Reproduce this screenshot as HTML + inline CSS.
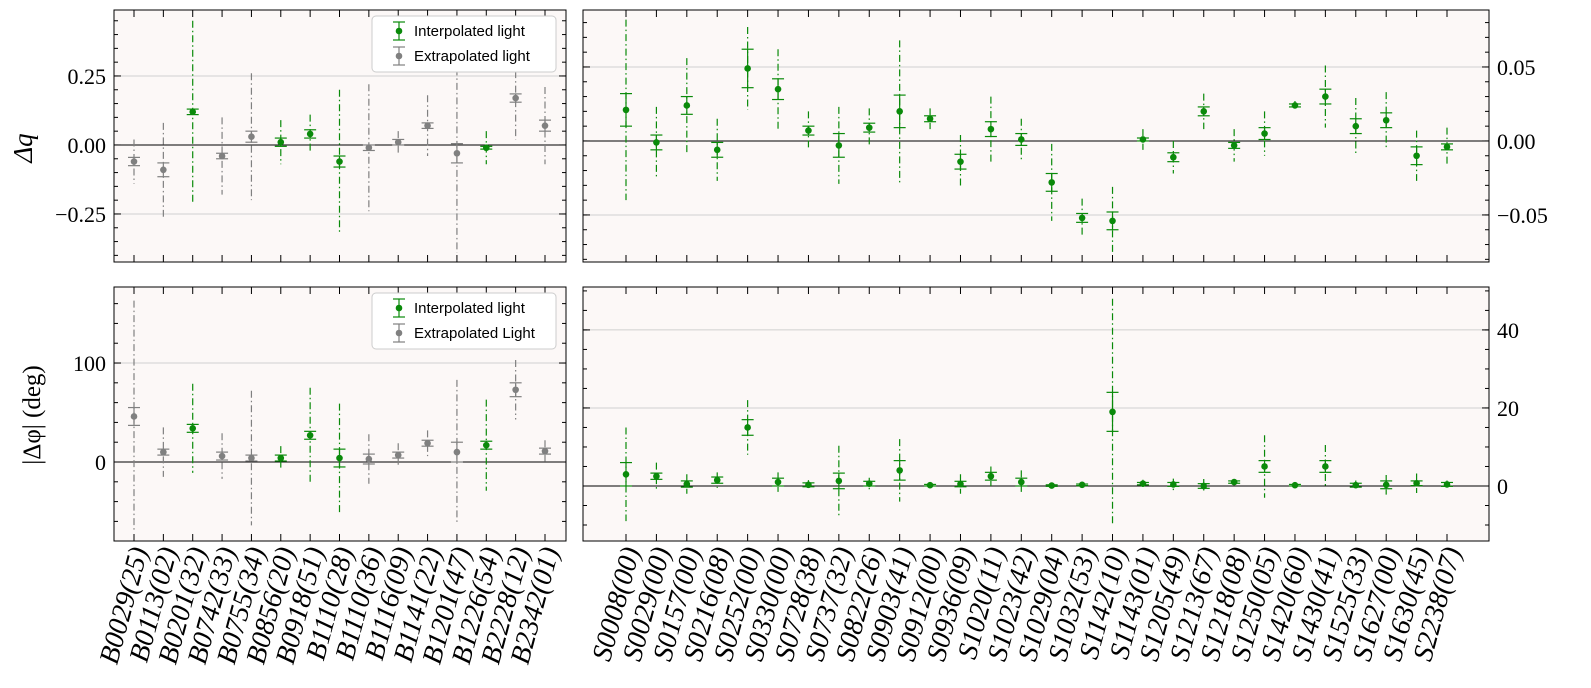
<!DOCTYPE html>
<html><head><meta charset="utf-8"><style>
body{margin:0;background:#fff;}
svg{display:block;font-family:"Liberation Serif","DejaVu Serif",serif;}
</style></head><body>
<svg id="c" width="1591" height="688" xmlns="http://www.w3.org/2000/svg"></svg>
<script>
const catsB=["B0029(25)","B0113(02)","B0201(32)","B0742(33)","B0755(34)","B0856(20)","B0918(51)","B1110(28)","B1110(36)","B1116(09)","B1141(22)","B1201(47)","B1226(54)","B2228(12)","B2342(01)"];
const interpB=[0,0,1,0,0,1,1,1,0,0,0,0,1,0,0];
const dqB=[-0.06,-0.09,0.12,-0.04,0.03,0.01,0.04,-0.06,-0.01,0.01,0.07,-0.03,-0.01,0.17,0.07];
const dqB_e1=[0.015,0.025,0.01,0.01,0.02,0.015,0.015,0.02,0.01,0.01,0.01,0.035,0.005,0.015,0.02];
const dqB_e2=[0.08,0.17,0.33,0.14,0.23,0.08,0.07,0.26,0.23,0.04,0.11,0.36,0.06,0.15,0.14];
const dpB=[46,10,34,6,4,4,27,4,3,7,19,10,17,73,11];
const dpB_e1=[9,3,4,4,3,3,4,9,5,3,3,10,4,7,3];
const dpB_e2=[117,25,45,23,68,12,48,55,25,12,13,73,46,30,11];
const catsS=["S0008(00)","S0029(00)","S0157(00)","S0216(08)","S0252(00)","S0330(00)","S0728(38)","S0737(32)","S0822(26)","S0903(41)","S0912(00)","S0936(09)","S1020(11)","S1023(42)","S1029(04)","S1032(53)","S1142(10)","S1143(01)","S1205(49)","S1213(67)","S1218(08)","S1250(05)","S1420(60)","S1430(41)","S1525(33)","S1627(00)","S1630(45)","S2238(07)"];
const dqS=[0.021,-0.001,0.024,-0.006,0.049,0.035,0.007,-0.003,0.009,0.020,0.015,-0.014,0.008,0.001,-0.028,-0.052,-0.054,0.001,-0.011,0.020,-0.003,0.005,0.024,0.030,0.010,0.014,-0.010,-0.004];
const dqS_e1=[0.011,0.005,0.006,0.005,0.013,0.007,0.003,0.008,0.003,0.011,0.002,0.005,0.005,0.004,0.006,0.003,0.006,0.001,0.003,0.003,0.002,0.004,0.001,0.005,0.005,0.005,0.006,0.002];
const dqS_e2=[0.061,0.024,0.032,0.021,0.028,0.027,0.013,0.026,0.013,0.048,0.007,0.018,0.022,0.014,0.026,0.013,0.023,0.007,0.011,0.012,0.011,0.015,0.003,0.021,0.019,0.019,0.017,0.013];
const dpS=[3,2.5,0.5,1.5,15,1,0.3,1.3,0.6,4,0.2,0.5,2.5,1,0.1,0.3,19,0.6,0.4,0,1,5,0.2,5,0.2,0.3,0.7,0.4];
const dpS_e1=[3,0.8,0.8,0.8,2,1,0.5,2,0.6,2.5,0.2,0.7,1,1,0.2,0.2,5,0.3,0.5,0.6,0.3,1.5,0.2,1.5,0.5,1,0.6,0.5];
const dpS_e2=[12,3.5,2.5,2,7,2.5,1.2,9,1.5,8,0.5,2.5,2.5,3,0.5,0.6,29,1,1.5,1.8,0.7,8,0.5,5.5,1.2,2.5,2.5,1];
const ticksTL=[-0.25,0,0.25], ticksTR=[-0.05,0,0.05], ticksBL=[0,100], ticksBR=[0,20,40];

const svg=document.getElementById('c');const NS="http://www.w3.org/2000/svg";
function el(t,a,p){const e=document.createElementNS(NS,t);for(const k in a)e.setAttribute(k,a[k]);(p||svg).appendChild(e);return e;}
const GREEN="#0a8a0a",GRAY="#808080";
function fmt(v){if(v===0)return "0.00";const s=Math.abs(v).toFixed(2);return (v<0?"\u2212":"")+s;}
function panel(name,x0,x1,y0,y1,vmin,vmax,cats,n0,n1,vals,e1,e2,interp,ticks,minor,side,fmtf){
  const g=el('g',{});
  
  
  const Y=v=>y1-(v-vmin)/(vmax-vmin)*(y1-y0);
  const sp=(n1-n0)/(cats.length-1);
  const X=i=>n0+i*sp;
  el('rect',{x:x0,y:y0,width:x1-x0,height:y1-y0,fill:"#fcf8f7"},g);
  ticks.forEach(t=>{el('line',{x1:x0,x2:x1,y1:Y(t),y2:Y(t),stroke:t===0?"#000":"#d0d0d0","stroke-width":1},g);});
  if(!ticks.includes(0))el('line',{x1:x0,x2:x1,y1:Y(0),y2:Y(0),stroke:"#000"},g);
  ticks.forEach(t=>{[x0,x1].forEach((xx,j)=>{const d=j===0?1:-1;el('line',{x1:xx,x2:xx+d*7,y1:Y(t),y2:Y(t),stroke:"#000"},g);});
    const lb=el('text',{x:side==='left'?x0-8:x1+8,y:Y(t)+8,"font-size":22,"text-anchor":side==='left'?'end':'start'},g);lb.textContent=fmtf(t);
    
    });
  for(let m=Math.ceil(vmin/minor)*minor;m<=vmax;m+=minor){const yy=Y(m);[x0,x1].forEach((xx,j)=>{const d=j===0?1:-1;el('line',{x1:xx,x2:xx+d*4,y1:yy,y2:yy,stroke:"#000"},g);});}
  cats.forEach((c,i)=>{[y0,y1].forEach((yy,j)=>{const d=j===0?1:-1;el('line',{x1:X(i),x2:X(i),y1:yy,y2:yy+d*7,stroke:"#000"},g);});});
  vals.forEach((v,i)=>{
    const col=interp[i]?GREEN:GRAY;const x=X(i);
    const p=el('g',{},g);
    
    
    const top=Math.max(y0,Y(v+e2[i])),bot=Math.min(y1,Y(v-e2[i]));
    el('line',{x1:x,x2:x,y1:top,y2:bot,stroke:col,"stroke-width":1.2,"stroke-dasharray":"7,3,1.5,3"},p);
    el('line',{x1:x,x2:x,y1:Y(v+e1[i]),y2:Y(v-e1[i]),stroke:col,"stroke-width":1.2},p);
    [v+e1[i],v-e1[i]].forEach(w=>el('line',{x1:x-6,x2:x+6,y1:Y(w),y2:Y(w),stroke:col,"stroke-width":1.2},p));
    el('circle',{cx:x,cy:Y(v),r:3.3,fill:col},p);
  });
  el('rect',{x:x0,y:y0,width:x1-x0,height:y1-y0,fill:"none",stroke:"#000"},g);
  return {X};
}
panel('panel-dq-b',114,566,10,262,-0.424,0.489,catsB,134,545,dqB,dqB_e1,dqB_e2,interpB,ticksTL,0.05,'left',fmt);
const ones=catsS.map(()=>1);
panel('panel-dq-s',583,1489,10,262,-0.0818,0.0885,catsS,626,1447,dqS,dqS_e1,dqS_e2,ones,ticksTR,0.01,'right',fmt);
const pBL=panel('panel-dphi-b',114,566,287,541,-79.8,176.8,catsB,134,545,dpB,dpB_e1,dpB_e2,interpB,ticksBL,20,'left',v=>String(v));
const pBR=panel('panel-dphi-s',583,1489,287,541,-14.1,51,catsS,626,1447,dpS,dpS_e1,dpS_e2,ones,ticksBR,5,'right',v=>String(v));
function xl(cats,X){cats.forEach((c,i)=>{const t=el('text',{transform:`translate(${X(i)+14},550) rotate(-75)`,"font-size":28,"font-style":"italic","text-anchor":"end"});t.textContent=c;
  
  });}
xl(catsB,pBL.X);xl(catsS,pBR.X);
let t=el('text',{x:0,y:0,transform:"translate(32,148) rotate(-90)","font-size":27,"font-style":"italic","text-anchor":"middle"});t.textContent="Δq";

t=el('text',{x:0,y:0,transform:"translate(40,415) rotate(-90)","font-size":25,"text-anchor":"middle"});t.textContent="|Δφ| (deg)";

function legend(y,lbl2){const g=el('g',{});
  
  
  el('rect',{x:372,y:y,width:184,height:56,rx:4,fill:"#fff",stroke:"#ccc"},g);
  [[GREEN,"Interpolated light"],[GRAY,lbl2]].forEach((e,k)=>{const yy=y+15+k*25,x=399;
    el('line',{x1:x,x2:x,y1:yy-9,y2:yy+9,stroke:e[0],"stroke-width":1.2},g);
    el('line',{x1:x-6,x2:x+6,y1:yy-9,y2:yy-9,stroke:e[0],"stroke-width":1.2},g);
    el('line',{x1:x-6,x2:x+6,y1:yy+9,y2:yy+9,stroke:e[0],"stroke-width":1.2},g);
    el('circle',{cx:x,cy:yy,r:3.3,fill:e[0]},g);
    const tt=el('text',{x:414,y:yy+5,"font-size":15,"font-family":"Liberation Sans, sans-serif"},g);tt.textContent=e[1];
    
    });}
legend(16,"Extrapolated light");legend(293,"Extrapolated Light");
</script>
</body></html>
